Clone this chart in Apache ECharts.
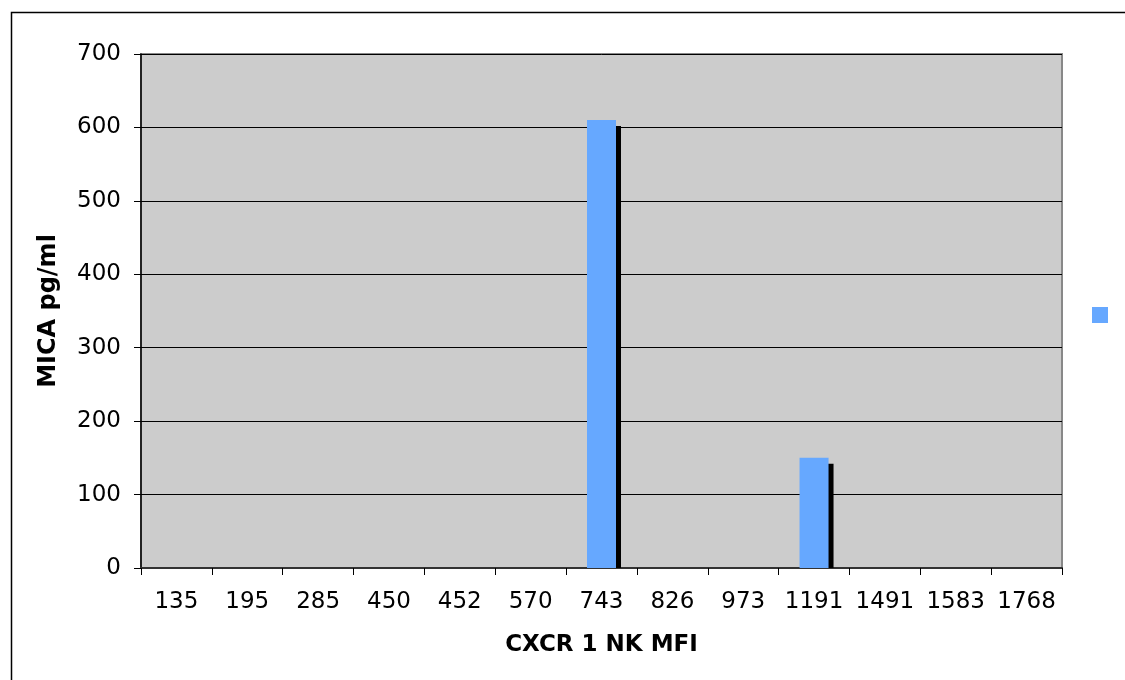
<!DOCTYPE html>
<html>
<head>
<meta charset="utf-8">
<script src="https://cdn.jsdelivr.net/npm/echarts@6/dist/echarts.min.js"></script>
<style>
html,body{margin:0;padding:0;background:#fff;}
#c{width:1125px;height:680px;}
</style>
</head>
<body>
<div id="c"></div>
<script>
const categories = ['135','195','285','450','452','570','743','826','973','1191','1491','1583','1768'];
const micaValues = [0,0,0,0,0,0,610,0,0,150,0,0,0];
const yTicks = {min:0, max:700, interval:100};
const xTitle = 'CXCR 1 NK MFI';
const yTitle = 'MICA pg/ml';
const seriesName = ' ';

const chart = echarts.init(document.getElementById('c'), null, {renderer:'canvas'});
const font = 'DejaVu Sans, Verdana, sans-serif';
const BAR_W = 29, SH_X = 5, SH_Y = 6;
const barColor = '#66A8FF';

function renderBar(params, api) {
  const v = api.value(1);
  if (!v) return null;
  const top = api.coord([api.value(0), v]);
  const base = api.coord([api.value(0), 0]);
  const h = base[1] - top[1];
  return {
    type:'group',
    children:[
      {type:'rect', shape:{x:top[0]-BAR_W/2+SH_X, y:top[1]+SH_Y, width:BAR_W, height:Math.max(0,h-SH_Y)},
       style:{fill:'#000'}},
      {type:'rect', shape:{x:top[0]-BAR_W/2, y:top[1], width:BAR_W, height:h},
       style:{fill:barColor}}
    ]
  };
}

chart.setOption({
  animation:false,
  backgroundColor:'#fff',
  graphic:[{
    type:'rect', z:-10, silent:true,
    shape:{x:11.5, y:12.5, width:2000, height:2000},
    style:{fill:'none', stroke:'#000', lineWidth:1.5}
  }],
  grid:{left:141, right:63, top:54, bottom:112, show:true,
        backgroundColor:'#CCCCCC', borderColor:'#888', borderWidth:2},
  legend:{
    data:[seriesName], left:1087, top:302, itemWidth:16, itemHeight:16,
    icon:'rect', textStyle:{fontSize:1, color:'transparent'}, itemGap:0,
    selectedMode:false
  },
  xAxis:{
    type:'category', data:categories,
    name:xTitle, nameLocation:'middle', nameGap:66,
    nameTextStyle:{fontFamily:font, fontWeight:'bold', fontSize:23, color:'#000'},
    axisLine:{lineStyle:{color:'#333', width:2}},
    axisTick:{show:true, length:7, lineStyle:{color:'#000'}},
    axisLabel:{fontFamily:font, fontSize:23, color:'#000', margin:23, interval:0},
    splitLine:{show:false}
  },
  yAxis:{
    type:'value', min:yTicks.min, max:yTicks.max, interval:yTicks.interval,
    name:yTitle, nameLocation:'middle', nameGap:80, nameRotate:90,
    nameTextStyle:{fontFamily:font, fontWeight:'bold', fontSize:24, color:'#000'},
    axisLine:{show:true, lineStyle:{color:'#000', width:1.5}},
    axisTick:{show:true, length:7, lineStyle:{color:'#000'}},
    axisLabel:{fontFamily:font, fontSize:23, color:'#000', margin:20},
    splitLine:{show:true, lineStyle:{color:'#000', width:1}}
  },
  series:[{
    name:seriesName, type:'custom', renderItem:renderBar,
    data:micaValues.map((v,i)=>[i,v]),
    encode:{x:0, y:1},
    itemStyle:{color:barColor}
  }]
});
</script>
</body>
</html>
